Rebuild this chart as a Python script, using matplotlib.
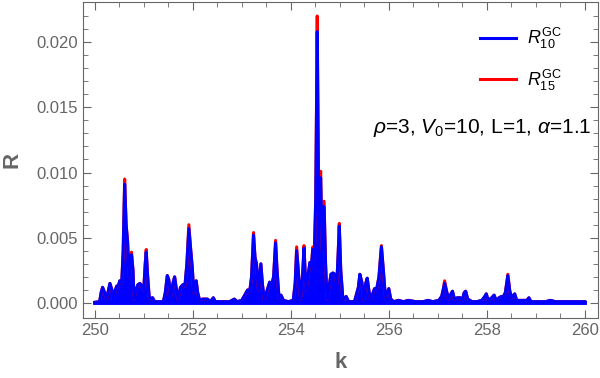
import matplotlib.pyplot as plt
import numpy as np

plt.rcParams['font.family'] = ['Liberation Sans', 'DejaVu Sans']
plt.rcParams['mathtext.fontset'] = 'custom'
plt.rcParams['mathtext.rm'] = 'Liberation Sans'
plt.rcParams['mathtext.it'] = 'Liberation Sans:italic'

# envelope of the oscillating curve
k_vals = [250.00, 250.10, 250.13, 250.16, 250.20, 250.24, 250.28, 250.31, 250.35, 250.38,
          250.42, 250.45, 250.48, 250.51, 250.55, 250.58, 250.61, 250.64, 250.67, 250.70,
          250.73, 250.75, 250.78, 250.80, 250.84, 250.88, 250.92, 250.96, 251.00, 251.03,
          251.05, 251.08, 251.11, 251.15, 251.18, 251.22, 251.40, 251.44, 251.48, 251.51,
          251.55, 251.60, 251.63, 251.66, 251.70, 251.75, 251.80, 251.84, 251.88, 251.92,
          251.96, 251.99, 252.02, 252.07, 252.10, 252.14, 252.20, 252.30, 252.36, 252.42,
          252.46, 252.60, 252.75, 252.85, 252.90, 253.00, 253.06, 253.12, 253.16, 253.20,
          253.24, 253.27, 253.30, 253.34, 253.39, 253.42, 253.46, 253.52, 253.57, 253.61,
          253.65, 253.69, 253.72, 253.76, 253.80, 253.85, 253.95, 254.05, 254.09, 254.12,
          254.16, 254.20, 254.24, 254.27, 254.31, 254.35, 254.39, 254.42, 254.45, 254.48,
          254.51, 254.54, 254.57, 254.61, 254.64, 254.68, 254.71, 254.74, 254.78, 254.82,
          254.86, 254.90, 254.94, 254.97, 254.99, 255.02, 255.06, 255.10, 255.13, 255.18,
          255.30, 255.38, 255.41, 255.45, 255.49, 255.53, 255.56, 255.60, 255.64, 255.68,
          255.71, 255.75, 255.80, 255.85, 255.89, 255.93, 255.97, 256.00, 256.04, 256.10,
          256.20, 256.30, 256.40, 256.55, 256.70, 256.80, 256.90, 257.02, 257.08, 257.11,
          257.14, 257.18, 257.22, 257.27, 257.30, 257.34, 257.40, 257.46, 257.50, 257.54,
          257.57, 257.61, 257.70, 257.80, 257.90, 257.96, 257.99, 258.03, 258.10, 258.15,
          258.19, 258.25, 258.30, 258.34, 258.38, 258.43, 258.47, 258.51, 258.57, 258.61,
          258.70, 258.75, 258.82, 258.86, 258.90, 259.20, 259.30, 259.40, 259.85, 260.00]

r10 = [0.00005, 0.0001, 0.0008, 0.0012, 0.0008, 0.0003, 0.0010, 0.0015, 0.0010, 0.0002,
       0.0010, 0.0013, 0.0013, 0.0017, 0.0015, 0.0040, 0.0091, 0.0060, 0.0046, 0.0020,
       0.0036, 0.0037, 0.0025, 0.0003, 0.0010, 0.0014, 0.0015, 0.0013, 0.0010, 0.0030,
       0.0039, 0.0020, 0.0005, 0.0003, 0.0004, 0.0001, 0.0001, 0.0008, 0.0021, 0.0018,
       0.0005, 0.0016, 0.0020, 0.0012, 0.0003, 0.0012, 0.0014, 0.0013, 0.0030, 0.0057,
       0.0040, 0.0027, 0.0008, 0.0017, 0.0008, 0.0002, 0.0003, 0.0003, 0.0001, 0.0004,
       0.0001, 0.0001, 0.0001, 0.0003, 0.0001, 0.0002, 0.0006, 0.0010, 0.0008, 0.0020,
       0.0052, 0.0035, 0.0030, 0.0010, 0.0030, 0.0015, 0.0002, 0.0010, 0.0016, 0.0014,
       0.0020, 0.0046, 0.0025, 0.0004, 0.0006, 0.0002, 0.0001, 0.0002, 0.0015, 0.0040,
       0.0022, 0.0003, 0.0020, 0.0042, 0.0010, 0.0020, 0.0031, 0.0028, 0.0041, 0.0035,
       0.0080, 0.0208, 0.0070, 0.0096, 0.0040, 0.0074, 0.0030, 0.0003, 0.0012, 0.0022,
       0.0023, 0.0022, 0.0015, 0.0040, 0.0059, 0.0025, 0.0005, 0.0003, 0.0005, 0.0001,
       0.0001, 0.0012, 0.0022, 0.0016, 0.0003, 0.0015, 0.0019, 0.0008, 0.0002, 0.0008,
       0.0011, 0.0010, 0.0020, 0.0043, 0.0025, 0.0005, 0.0008, 0.0011, 0.0003, 0.0001,
       0.0002, 0.0001, 0.0002, 0.0001, 0.0001, 0.0002, 0.0001, 0.0002, 0.0005, 0.0010,
       0.0015, 0.0009, 0.0003, 0.0007, 0.0009, 0.0003, 0.0004, 0.0004, 0.0002, 0.0008,
       0.0009, 0.0003, 0.0001, 0.0001, 0.0002, 0.0005, 0.0007, 0.0002, 0.0004, 0.0006,
       0.0002, 0.0004, 0.0005, 0.0005, 0.0008, 0.0021, 0.0009, 0.0004, 0.0007, 0.0002,
       0.0002, 0.0002, 0.0002, 0.0004, 0.0001, 0.0001, 0.0002, 0.0001, 0.0001, 0.0001]

# R15 sits a little above R10 at the peaks
peak_k = [250.61, 250.67, 250.75, 251.05, 251.92, 253.24, 253.69, 254.12, 254.27,
          254.45, 254.54, 254.61, 254.68, 254.99, 255.85, 257.14, 258.43]
peak_r15 = [0.0095, 0.0048, 0.0039, 0.0041, 0.0060, 0.0054, 0.0048, 0.0043, 0.0044,
            0.0043, 0.0220, 0.0101, 0.0078, 0.0061, 0.0044, 0.0017, 0.0022]

r15 = list(r10)
for pk, pv in zip(peak_k, peak_r15):
    r15[k_vals.index(pk)] = pv

gray = '#666666'
fig = plt.figure(figsize=(6, 3.78), dpi=100)
ax = fig.add_axes([83 / 600, 60 / 378, 515 / 600, 316 / 378])

ax.fill_between(k_vals, 0, r15, color='red', lw=0)
ax.plot(k_vals, r15, color='red', lw=2.2)
ax.fill_between(k_vals, 0, r10, color='blue', lw=0)
ax.plot(k_vals, r10, color='blue', lw=2.2)
ax.plot(k_vals, np.zeros(len(k_vals)), color='blue', lw=2.8)

l1, = ax.plot([], [], color='blue', lw=2.2, label=r'$R_{10}^{\mathrm{GC}}$')
l2, = ax.plot([], [], color='red', lw=2.2, label=r'$R_{15}^{\mathrm{GC}}$')
ax.legend(handles=[l1, l2], loc='upper right', bbox_to_anchor=(0.96, 0.975),
          frameon=False, fontsize=13, handlelength=2.0, handletextpad=0.6,
          labelspacing=0.9)

ax.text(0.988, 0.60, r'$\rho$=3, $V_0$=10, L=1, $\alpha$=1.1', transform=ax.transAxes,
        ha='right', va='center', fontsize=15)

ax.set_xlim(249.76, 260.27)
ax.set_ylim(-0.00115, 0.02307)
ax.set_xticks([250, 252, 254, 256, 258, 260])
ax.set_xticks(np.arange(250, 260.01, 0.5), minor=True)
ax.set_yticks([0, 0.005, 0.01, 0.015, 0.02])
ax.set_yticklabels(['0.000', '0.005', '0.010', '0.015', '0.020'])
ax.set_yticks(np.arange(0, 0.0226, 0.001), minor=True)

for s in ax.spines.values():
    s.set_color(gray)
ax.tick_params(which='both', direction='in', top=True, right=True, colors=gray,
               labelsize=12, labelcolor=gray)
ax.tick_params(which='major', length=6)
ax.tick_params(which='minor', length=3.5)

ax.set_xlabel('k', fontsize=16, fontweight='bold', color=gray, labelpad=10)
ax.set_ylabel('R', fontsize=16, fontweight='bold', color=gray, labelpad=10)

fig.savefig('out.png', dpi=100)
